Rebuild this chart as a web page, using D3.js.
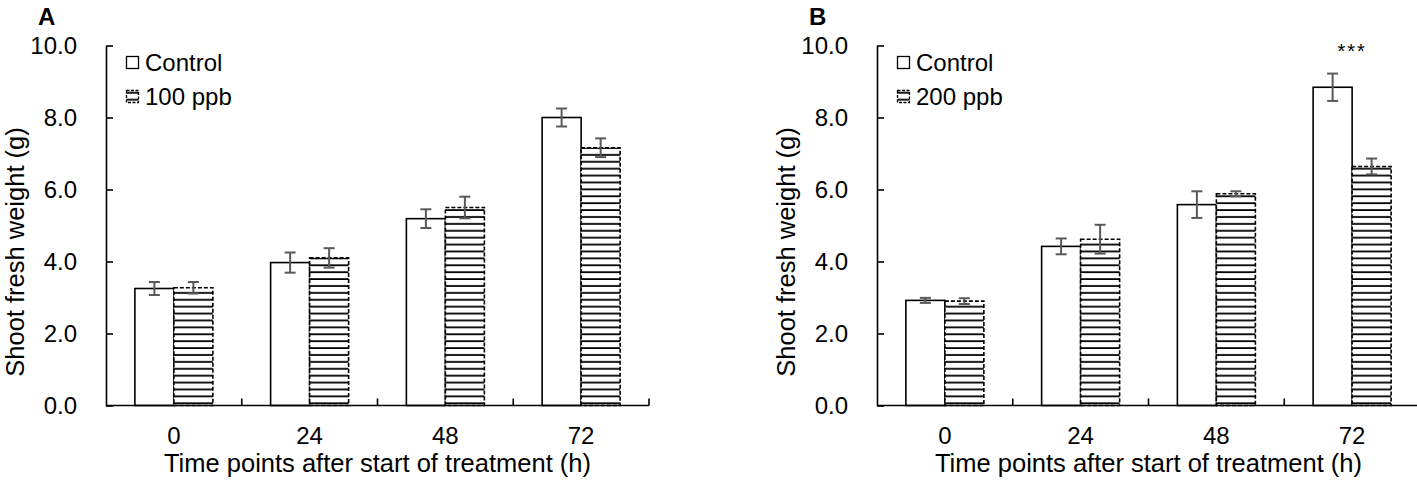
<!DOCTYPE html>
<html>
<head>
<meta charset="utf-8">
<script src="https://cdn.jsdelivr.net/npm/d3@7"></script>
<style>
  body { margin: 0; background: #fff; }
  text { font-family: "Liberation Sans", Arial, sans-serif; fill: #000; }
</style>
</head>
<body>
<div id="chart"></div>
<script>
const timePoints = ["0", "24", "48", "72"];
const yTicks = [0, 2, 4, 6, 8, 10];

const controlA = [3.25, 3.97, 5.19, 8.0];
const controlErrA = [0.18, 0.28, 0.26, 0.25];
const treatA = [3.27, 4.1, 5.5, 7.16];
const treatErrA = [0.16, 0.27, 0.3, 0.26];

const controlB = [2.92, 4.42, 5.58, 8.84];
const controlErrB = [0.07, 0.22, 0.37, 0.38];
const treatB = [2.9, 4.62, 5.88, 6.64];
const treatErrB = [0.08, 0.4, 0.07, 0.22];

const panels = [
  { tag: "A", left: 106, label: "100 ppb", control: controlA, controlErr: controlErrA, treat: treatA, treatErr: treatErrA, stars: [] },
  { tag: "B", left: 877, label: "200 ppb", control: controlB, controlErr: controlErrB, treat: treatB, treatErr: treatErrB, stars: [{ t: "72", text: "***" }] }
];

const width = 1417, height = 482;
const plotW = 543, plotTop = 45.5, plotBottom = 405.5;

const svg = d3.select("#chart").append("svg")
  .attr("width", width)
  .attr("height", height);

// horizontal stripe pattern for treated bars
const pat = svg.append("defs").append("pattern")
  .attr("id", "stripes")
  .attr("patternUnits", "userSpaceOnUse")
  .attr("width", 8)
  .attr("height", 6.9)
  .attr("y", 403.3 - 6.9 + 0.9);
pat.append("rect").attr("width", 8).attr("height", 6.9).attr("fill", "#fff");
pat.append("line")
  .attr("x1", 0).attr("x2", 8)
  .attr("y1", 6).attr("y2", 6)
  .attr("stroke", "#000").attr("stroke-width", 1.8);

const y = d3.scaleLinear().domain([0, 10]).range([plotBottom, plotTop]);

panels.forEach(p => {
  const g = svg.append("g");
  const x = d3.scaleBand().domain(timePoints).range([p.left, p.left + plotW]);
  const bw = 39;
  const off = (x.bandwidth() - 2 * bw) / 2;

  const rows = timePoints.map((t, i) => ({
    t, c: p.control[i], ce: p.controlErr[i], s: p.treat[i], se: p.treatErr[i]
  }));

  // control bars
  g.selectAll(".ctl").data(rows).join("rect")
    .attr("x", d => x(d.t) + off)
    .attr("y", d => y(d.c))
    .attr("width", bw)
    .attr("height", d => y(0) - y(d.c))
    .attr("fill", "#fff")
    .attr("stroke", "#000")
    .attr("stroke-width", 1.6);

  // treated bars
  g.selectAll(".trt").data(rows).join("rect")
    .attr("x", d => x(d.t) + off + bw)
    .attr("y", d => y(d.s))
    .attr("width", bw)
    .attr("height", d => y(0) - y(d.s))
    .attr("fill", "url(#stripes)")
    .attr("stroke", "#000")
    .attr("stroke-width", 1.6)
    .attr("stroke-dasharray", "4,2");

  // error bars
  const errs = rows.flatMap(d => [
    { cx: x(d.t) + off + bw / 2, v: d.c, e: d.ce },
    { cx: x(d.t) + off + bw * 1.5, v: d.s, e: d.se }
  ]);
  const eg = g.selectAll(".err").data(errs).join("g")
    .attr("stroke", "#595959").attr("stroke-width", 2);
  eg.append("line")
    .attr("x1", d => d.cx).attr("x2", d => d.cx)
    .attr("y1", d => y(d.v + d.e)).attr("y2", d => y(d.v - d.e));
  eg.append("line")
    .attr("x1", d => d.cx - 5.5).attr("x2", d => d.cx + 5.5)
    .attr("y1", d => y(d.v + d.e)).attr("y2", d => y(d.v + d.e));
  eg.append("line")
    .attr("x1", d => d.cx - 5.5).attr("x2", d => d.cx + 5.5)
    .attr("y1", d => y(d.v - d.e)).attr("y2", d => y(d.v - d.e));

  // y axis (inner ticks)
  const ya = g.append("g")
    .attr("transform", `translate(${p.left},0)`)
    .call(d3.axisLeft(y).tickValues(yTicks).tickSize(-7).tickSizeOuter(0).tickPadding(29).tickFormat(d3.format(".1f")));
  ya.select(".domain").attr("stroke", "#000").attr("stroke-width", 1.6);
  ya.selectAll(".tick line").attr("stroke", "#000").attr("stroke-width", 1.6);
  ya.selectAll("text").attr("font-size", 24).attr("font-family", "Liberation Sans, Arial, sans-serif");

  // x axis: line with inner ticks at category boundaries
  g.append("line")
    .attr("x1", p.left).attr("x2", p.left + plotW)
    .attr("y1", y(0)).attr("y2", y(0))
    .attr("stroke", "#000").attr("stroke-width", 1.6);
  const bounds = timePoints.map(t => x(t) + x.bandwidth());
  g.selectAll(".xt").data(bounds).join("line")
    .attr("x1", d => d).attr("x2", d => d)
    .attr("y1", y(0)).attr("y2", y(0) - 7)
    .attr("stroke", "#000").attr("stroke-width", 1.6);
  g.selectAll(".xl").data(timePoints).join("text")
    .attr("x", d => x(d) + x.bandwidth() / 2)
    .attr("y", 444)
    .attr("text-anchor", "middle")
    .attr("font-size", 24)
    .text(d => d);

  g.append("text")
    .attr("x", p.left + plotW / 2)
    .attr("y", 472)
    .attr("text-anchor", "middle")
    .attr("font-size", 25.5)
    .text("Time points after start of treatment (h)");

  g.append("text")
    .attr("transform", `translate(${p.left - 82},252) rotate(-90)`)
    .attr("text-anchor", "middle")
    .attr("font-size", 25.5)
    .text("Shoot fresh weight (g)");

  // panel tag
  g.append("text")
    .attr("x", p.left - 68)
    .attr("y", 25)
    .attr("font-size", 24)
    .attr("font-weight", "bold")
    .text(p.tag);

  // stars
  g.selectAll(".star").data(p.stars).join("text")
    .attr("x", d => x(d.t) + x.bandwidth() / 2)
    .attr("y", 58)
    .attr("text-anchor", "middle")
    .attr("font-size", 20)
    .attr("letter-spacing", 2)
    .text(d => d.text);

  // legend
  const lg = g.append("g").attr("transform", `translate(${p.left + 20},0)`);
  lg.append("rect")
    .attr("x", 0.5).attr("y", 56.5).attr("width", 12).attr("height", 12)
    .attr("fill", "#fff").attr("stroke", "#000").attr("stroke-width", 1.3);
  lg.append("text").attr("x", 19).attr("y", 71).attr("font-size", 24).text("Control");
  lg.append("rect")
    .attr("x", 0.5).attr("y", 90.5).attr("width", 12).attr("height", 12)
    .attr("fill", "url(#stripes)").attr("stroke", "#000").attr("stroke-width", 1.3)
    .attr("stroke-dasharray", "3,1.5");
  lg.append("text").attr("x", 19).attr("y", 105).attr("font-size", 24).text(p.label);
});
</script>
</body>
</html>
